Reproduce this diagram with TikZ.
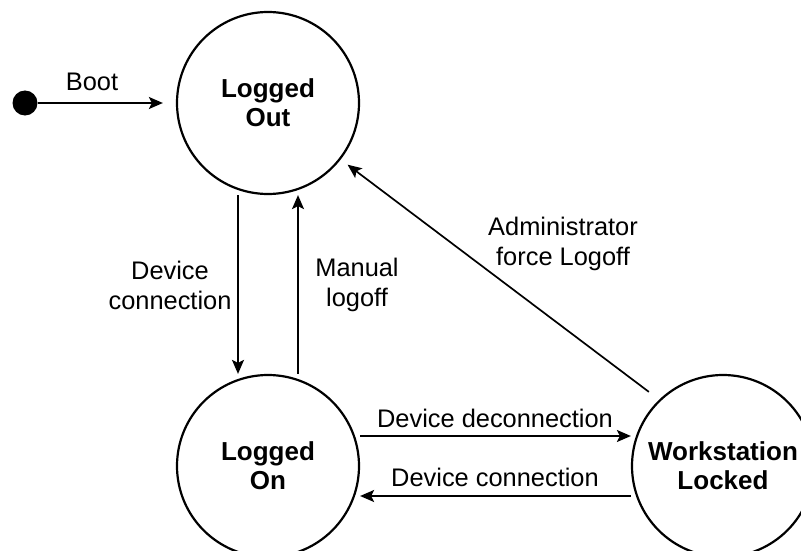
\documentclass[tikz,border=0pt]{standalone}
\usepackage{fontspec}
\setmainfont{Liberation Sans}
\usetikzlibrary{arrows.meta}
\begin{document}
\begin{tikzpicture}[x=1pt,y=-1pt,
  state/.style={circle,draw,line width=2.2pt,minimum size=182pt,inner sep=0pt,align=center,font=\fontsize{26}{29}\selectfont\bfseries},
  lbl/.style={inner sep=0pt,align=center,font=\fontsize{25.4}{30}\selectfont},
  tr/.style={line width=1.7pt,-{Stealth[length=14pt,width=12pt,inset=3pt]}}]
\useasboundingbox (0,0) rectangle (801,551);
\clip (0,0) rectangle (801,551);
\node[state] (lout) at (268,103) {Logged\\Out};
\node[state] (lon) at (268,466) {Logged\\On};
\node[state] (wl) at (723,466) {Workstation\\Locked};
\node[circle,fill,minimum size=25pt,inner sep=0pt] (init) at (25,103) {};
\draw[tr] (init) -- ([xshift=-13pt]lout.west);
\draw[tr] ([xshift=-30pt]lout.south) -- ([xshift=-30pt]lon.north);
\draw[tr] ([xshift=30pt]lon.north) -- ([xshift=30pt]lout.south);
\draw[tr] ([yshift=30pt]lon.east) -- ([yshift=30pt]wl.west);
\draw[tr] ([yshift=-30pt]wl.west) -- ([yshift=-30pt]lon.east);
\draw[tr] ([shift={(-9pt,9pt)}]wl.135) -- ([shift={(7pt,-5pt)}]lout.-38);
\node[lbl] (lboot) at (92,82) {Boot};
\node[lbl] (ldc) at (170,285) {Device\\connection};
\node[lbl] (lml) at (357,285) {Manual\\logoff};
\node[lbl] (lafl) at (563,244) {Administrator\\force Logoff};
\node[lbl] (ldd) at (495,418) {Device deconnection};
\node[lbl] (ldc2) at (495,477) {Device connection};
\end{tikzpicture}
\end{document}
